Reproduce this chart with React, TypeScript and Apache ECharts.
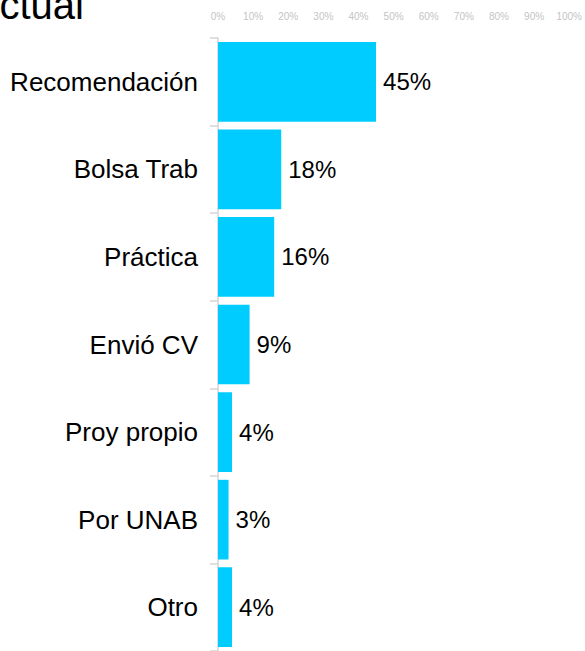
import React, { useEffect, useRef } from "react";
import * as echarts from "echarts";

const categories = ["Recomendación", "Bolsa Trab", "Práctica", "Envió CV", "Proy propio", "Por UNAB", "Otro"];
const values = [45, 18, 16, 9, 4, 3, 4];
const titleText = "ctual";

const FONT = "'Liberation Sans', Arial, sans-serif";

export default function App() {
  const ref = useRef<HTMLDivElement>(null);
  useEffect(() => {
    if (!ref.current) return;
    const chart = echarts.init(ref.current, undefined, { renderer: "svg" });
    chart.setOption({
      animation: false,
      backgroundColor: "#ffffff",
      textStyle: { fontFamily: FONT },
      graphic: [
        {
          type: "text",
          x: 84,
          y: 25,
          style: {
            text: titleText,
            font: `40px ${FONT}`,
            fill: "#000000",
            align: "right",
            verticalAlign: "bottom",
          },
        },
      ],
      grid: { left: 218, right: 13, top: 38, bottom: -3, containLabel: false },
      xAxis: {
        type: "value",
        position: "top",
        min: 0,
        max: 100,
        interval: 10,
        axisLine: { show: false },
        axisTick: { show: false },
        splitLine: { show: false },
        axisLabel: {
          formatter: "{value}%",
          fontSize: 10,
          color: "#c4c4c4",
          margin: 17,
          fontFamily: FONT,
        },
      },
      yAxis: {
        type: "category",
        inverse: true,
        data: categories,
        axisLine: { show: true, lineStyle: { color: "#d4d4d4", width: 1.5 } },
        axisTick: { show: true, length: 8, lineStyle: { color: "#d4d4d4", width: 1.5 } },
        axisLabel: { fontSize: 26, color: "#000000", margin: 20, fontFamily: FONT, padding: [4, 0, 0, 0] },
        splitLine: { show: false },
      },
      series: [
        {
          type: "bar",
          data: values,
          barCategoryGap: "9%",
          itemStyle: { color: "#00CCFF" },
          label: {
            show: true,
            position: "right",
            distance: 7,
            formatter: "{c}%",
            fontSize: 24,
            color: "#000000",
            fontFamily: FONT,
            padding: [4, 0, 0, 0],
          },
        },
      ],
    });
    return () => chart.dispose();
  }, []);
  return (
    <div
      ref={ref}
      style={{ position: "fixed", left: 0, top: 0, width: 585, height: 651 }}
    />
  );
}
